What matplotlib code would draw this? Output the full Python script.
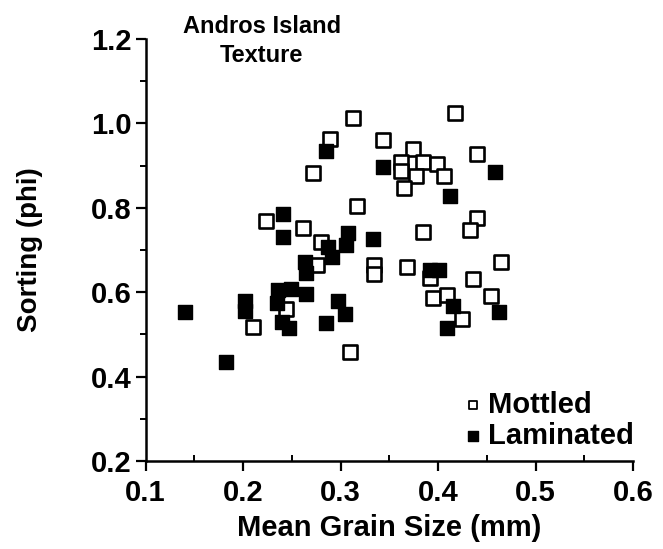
import matplotlib
matplotlib.use("Agg")
import matplotlib.pyplot as plt
from matplotlib.ticker import MultipleLocator, FormatStrFormatter

plt.rcParams['font.family'] = ['Liberation Sans', 'DejaVu Sans']
plt.rcParams['font.weight'] = 'bold'

# Mottled samples (open squares): mean grain size (mm), sorting (phi)
mottled_size = [0.313, 0.417, 0.289, 0.344, 0.374, 0.440, 0.272, 0.362, 0.362,
                0.384, 0.399, 0.377, 0.406, 0.365, 0.317, 0.440, 0.433, 0.261,
                0.385, 0.280, 0.276, 0.334, 0.334, 0.368, 0.464, 0.224, 0.244,
                0.210, 0.310, 0.392, 0.436, 0.395, 0.409, 0.424, 0.454]
mottled_sort = [1.012, 1.024, 0.964, 0.960, 0.940, 0.927, 0.882, 0.909, 0.887,
                0.909, 0.904, 0.876, 0.875, 0.848, 0.804, 0.775, 0.747, 0.751,
                0.743, 0.720, 0.665, 0.665, 0.643, 0.659, 0.672, 0.769, 0.561,
                0.517, 0.458, 0.634, 0.631, 0.587, 0.593, 0.536, 0.591]

# Laminated samples (filled squares)
laminated_size = [0.140, 0.183, 0.202, 0.202, 0.241, 0.241, 0.285, 0.344, 0.412,
                  0.458, 0.308, 0.306, 0.333, 0.287, 0.291, 0.264, 0.265, 0.265,
                  0.236, 0.249, 0.235, 0.240, 0.247, 0.297, 0.305, 0.285, 0.392,
                  0.401, 0.415, 0.409, 0.462]
laminated_sort = [0.554, 0.435, 0.579, 0.555, 0.785, 0.731, 0.935, 0.896, 0.828,
                  0.884, 0.740, 0.712, 0.727, 0.706, 0.684, 0.672, 0.645, 0.596,
                  0.605, 0.608, 0.574, 0.530, 0.515, 0.579, 0.548, 0.528, 0.653,
                  0.653, 0.567, 0.515, 0.554]

fig = plt.figure(figsize=(6.63, 5.49), dpi=100)
ax = fig.add_axes([0.2195, 0.1603, 0.7355, 0.7687])

ax.scatter(mottled_size, mottled_sort, marker='s', s=88, facecolors='white',
           edgecolors='black', linewidths=1.9, zorder=3)
ax.scatter(laminated_size, laminated_sort, marker='s', s=100, facecolors='black',
           edgecolors='black', linewidths=1.0, zorder=3)

ax.set_xlim(0.1, 0.6)
ax.set_ylim(0.2, 1.2)
ax.xaxis.set_major_locator(MultipleLocator(0.1))
ax.xaxis.set_minor_locator(MultipleLocator(0.05))
ax.yaxis.set_major_locator(MultipleLocator(0.2))
ax.yaxis.set_minor_locator(MultipleLocator(0.1))
ax.xaxis.set_major_formatter(FormatStrFormatter('%.1f'))
ax.yaxis.set_major_formatter(FormatStrFormatter('%.1f'))

for side in ('top', 'right'):
    ax.spines[side].set_visible(False)
for side in ('left', 'bottom'):
    ax.spines[side].set_linewidth(1.8)

ax.tick_params(which='major', direction='out', length=7, width=1.6, labelsize=21)
ax.tick_params(axis='x', which='major', pad=6)
ax.tick_params(axis='y', which='major', pad=3)
ax.tick_params(axis='y', which='minor', direction='out', length=4, width=1.4)
ax.tick_params(axis='x', which='minor', direction='in', length=4, width=1.4)
for lab in ax.get_xticklabels() + ax.get_yticklabels():
    lab.set_fontweight('bold')

ax.set_xlabel('Mean Grain Size (mm)', fontsize=21, fontweight='bold')
ax.set_ylabel('Sorting (phi)', fontsize=20, fontweight='bold')
ax.xaxis.set_label_coords(0.5, -0.159)
ax.xaxis.label.set_va('center')
ax.yaxis.set_label_coords(-0.237, 0.5)
ax.yaxis.label.set_va('center')

fig.text(0.395, 0.972, 'Andros Island\nTexture', ha='center', va='top',
         fontsize=17, fontweight='bold', linespacing=1.3)

# legend drawn as markers plus text
ax.scatter([0.436], [0.333], marker='s', s=40, facecolors='white',
           edgecolors='black', linewidths=1.3, zorder=3)
ax.scatter([0.436], [0.259], marker='s', s=45, facecolors='black',
           edgecolors='black', zorder=3)
ax.text(0.451, 0.333, 'Mottled', fontsize=21, fontweight='bold', va='center')
ax.text(0.451, 0.259, 'Laminated', fontsize=21, fontweight='bold', va='center')

fig.savefig('out.png', dpi=100)
